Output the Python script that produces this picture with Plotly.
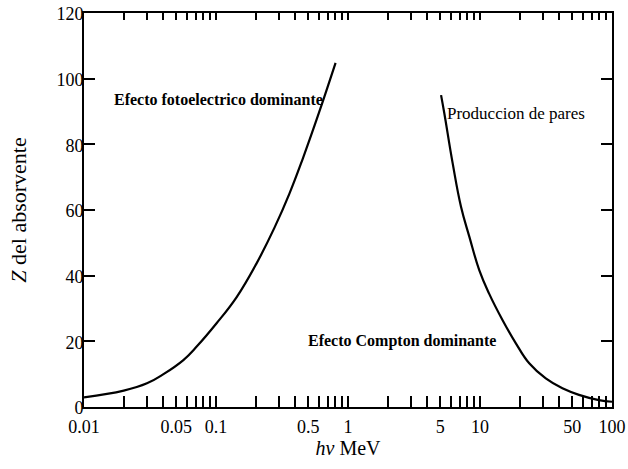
import plotly.graph_objects as go

# Photoelectric / Compton boundary (Z vs hv MeV)
photo_x = [0.01, 0.02, 0.03, 0.04, 0.0566, 0.0714, 0.101, 0.143, 0.202, 0.278, 0.36, 0.454, 0.60, 0.805]
photo_z = [2.95, 5.0, 7.2, 10.0, 14.3, 18.4, 25.5, 33.4, 43.6, 54.7, 65.0, 75.6, 89.4, 104.8]

# Compton / pair production boundary
pair_x = [5.07, 5.37, 6.21, 7.18, 8.30, 9.87, 11.7, 14.8, 18.7, 23.6, 31.5, 42.1, 56.2, 79.6, 100.0]
pair_z = [95.0, 89.4, 74.2, 61.0, 51.9, 41.7, 34.6, 26.5, 19.4, 13.3, 8.7, 5.7, 3.7, 2.1, 1.6]

x_labeled = [0.01, 0.05, 0.1, 0.5, 1, 5, 10, 50, 100]
x_label_text = ["0.01", "0.05", "0.1", "0.5", "1", "5", "10", "50", "100"]
y_ticks = [0, 20, 40, 60, 80, 100, 120]

label_photo = "Efecto fotoelectrico dominante"
label_pair = "Produccion de pares"
label_compton = "Efecto Compton dominante"

decades = [0.01, 0.1, 1, 10]
x_tickvals = [d * m for d in decades for m in range(1, 10)] + [100]
def fmt(v):
    for lv, lt in zip(x_labeled, x_label_text):
        if abs(v - lv) / lv < 1e-6:
            return lt
    return ""
x_ticktext = [fmt(v) for v in x_tickvals]

FONT = "Liberation Serif"

fig = go.Figure()
line_style = dict(color="black", width=2.2)
fig.add_trace(go.Scatter(x=photo_x, y=photo_z, mode="lines", line=dict(shape="spline", smoothing=1.2, **line_style), showlegend=False))
fig.add_trace(go.Scatter(x=pair_x, y=pair_z, mode="lines", line=dict(shape="spline", smoothing=1.2, **line_style), showlegend=False))
# dummy trace for top axis
fig.add_trace(go.Scatter(x=[0.01, 100], y=[None, None], xaxis="x2", mode="lines", showlegend=False, hoverinfo="skip"))

fig.update_layout(
    width=628, height=469,
    margin=dict(l=84, r=16, t=13, b=62),
    paper_bgcolor="white", plot_bgcolor="white",
    font=dict(family=FONT, color="black", size=18),
    xaxis=dict(
        type="log", range=[-2, 2], automargin=False,
        tickvals=x_tickvals, ticktext=x_ticktext,
        ticks="inside", ticklen=11, tickwidth=2, tickcolor="black",
        showline=True, linewidth=2, linecolor="black",
        showgrid=False, zeroline=False, mirror=False,
        tickfont=dict(size=18, family=FONT), ticklabelstandoff=2,
        title=dict(text="<i>hν</i> MeV", font=dict(size=20, family=FONT), standoff=4),
    ),
    xaxis2=dict(
        type="log", range=[-2, 2], overlaying="x", side="top", automargin=False,
        tickvals=x_tickvals, ticktext=[""] * len(x_tickvals),
        ticks="inside", ticklen=7, tickwidth=2, tickcolor="black",
        showline=True, linewidth=2, linecolor="black",
        showgrid=False, zeroline=False,
    ),
    yaxis=dict(
        range=[0, 120], tickvals=y_ticks, automargin=False,
        ticks="inside", ticklen=11, tickwidth=2, tickcolor="black",
        showline=True, linewidth=2, linecolor="black", mirror="ticks",
        showgrid=False, zeroline=False,
        tickfont=dict(size=18, family=FONT), ticklabelstandoff=-5, ticklabelshift=1,
        title=dict(text="<i>Z</i> del absorvente", font=dict(size=22, family=FONT), standoff=24),
    ),
)

fig.add_annotation(x=-1.788, y=93.8, xref="x", yref="y", text="<b>" + label_photo + "</b>",
                   showarrow=False, xanchor="left", yanchor="middle", font=dict(size=16, family=FONT))
fig.add_annotation(x=0.733, y=89.5, xref="x", yref="y", text=label_pair,
                   showarrow=False, xanchor="left", yanchor="middle", font=dict(size=17, family=FONT))
fig.add_annotation(x=0.407, y=20.1, xref="x", yref="y", text="<b>" + label_compton + "</b>",
                   showarrow=False, xanchor="center", yanchor="middle", font=dict(size=16, family=FONT))

fig.write_html("out.html", config={"displayModeBar": False},
               post_script="document.body.style.margin='0';document.body.style.padding='0';")
